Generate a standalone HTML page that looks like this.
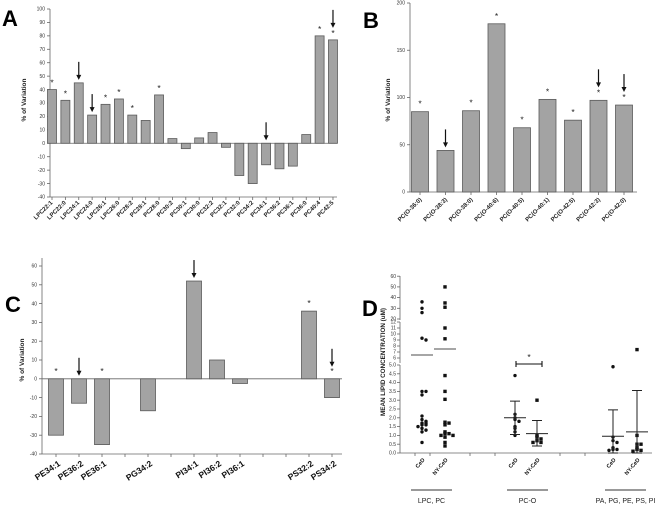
<!DOCTYPE html>
<html><head><meta charset="utf-8"><style>
html,body{margin:0;padding:0;background:#fff;}
svg{display:block;font-family:"Liberation Sans",sans-serif;}
.t{font-size:5px;fill:#333;}
.l{font-size:6px;fill:#222;}
.bar{fill:#a3a3a3;stroke:#5a5a5a;stroke-width:0.8;}
.ax{stroke:#666;stroke-width:0.8;fill:none;}
</style></head><body>
<svg id="fig" width="658" height="506" viewBox="0 0 658 506">
<g id="gA"></g>
<g id="gB"></g>
<g id="gC"></g>
<g id="gD"></g>
</svg>
<script>
// Panel A data
const aCats=["LPC22:1","LPC22:0","LPC24:1","LPC24:0","LPC26:1","LPC26:0","PC28:2","PC28:1","PC28:0","PC30:2","PC30:1","PC30:0","PC32:2","PC32:1","PC32:0","PC34:2","PC34:1","PC36:2","PC36:1","PC36:0","PC40:4","PC42:5"];
const aVals=[40,32,45,21,29,33,21,17,36,3.5,-4,4,8,-3,-24,-30,-16,-19,-17,6.5,80,77];
const aStars=[0,1,4,5,6,8,20,21];
const aArrows=[2,3,16,21];
const aTicks=[100,90,80,70,60,50,40,30,20,10,0,-10,-20,-30,-40];
// Panel B data
const bCats=["PC(O-36:0)","PC(O-38:3)","PC(O-38:0)","PC(O-40:6)","PC(O-40:5)","PC(O-40:1)","PC(O-42:5)","PC(O-42:3)","PC(O-42:0)"];
const bVals=[85,44,86,178,68,98,76,97,92];
const bStars=[0,2,3,4,5,6,7,8];
const bArrows=[1,7,8];
const bTicks=[0,50,100,150,200];
// Panel C data
const cCats=["PE34:1","PE36:2","PE36:1","PG34:2","PI34:1","PI36:2","PI36:1","PS32:2","PS34:2"];
const cSlots=[0,1,2,4,6,7,8,11,12];
const cVals=[-30,-13,-35,-17,52,10,-2.5,36,-10];
const cStars=[0,2,7,8];
const cArrows=[1,4,8];
const cTicks=[60,50,40,30,20,10,0,-10,-20,-30,-40];
// Panel D data
const dCeD_LPC=[36,30,26,9.3,9,3.5,3.5,3.3,2.1,1.9,1.8,1.7,1.7,1.6,1.6,1.5,1.4,1.3,1.2,0.6];
const dNY_LPC=[50,35,31,11,9.2,4.4,3.5,3.05,1.75,1.7,1.6,1.2,1.1,1.1,1.0,1.0,0.9,0.6,0.4];
const dCeD_PCO=[4.4,2.2,2.0,1.9,1.8,1.5,1.4,1.2,1.0];
const dNY_PCO=[3.0,1.0,0.9,0.8,0.7,0.6,0.6];
const dCeD_OTH=[4.9,0.9,0.7,0.6,0.3,0.2,0.2,0.15];
const dNY_OTH=[7.4,1.0,0.5,0.5,0.3,0.2,0.15,0.1];
const dMeans=[6.5,7.5,2.0,1.1,0.95,1.2];
const dErrLo=[null,null,1.05,0.4,0,0];
const dErrHi=[null,null,2.95,1.85,2.45,3.55];
const dTicksLow=[0,0.5,1,1.5,2,2.5,3,3.5,4,4.5,5];
const dTicksMid=[5,6,7,8,9,10,11,12];
const dTicksHigh=[20,30,40,50,60];

const NS="http://www.w3.org/2000/svg";
function mk(p,tag,at,txt){const e=document.createElementNS(NS,tag);for(const k in at)e.setAttribute(k,at[k]);if(txt!==undefined)e.textContent=txt;p.appendChild(e);return e;}
function arrow(g,x,yTip){
  const a=mk(g,"g",{});
  
  
  mk(a,"line",{x1:x,y1:yTip-18,x2:x,y2:yTip-4,stroke:"#111","stroke-width":1.2});
  mk(a,"path",{d:`M${x-2.5},${yTip-5} L${x+2.5},${yTip-5} L${x},${yTip} Z`,fill:"#111"});
}
function star(g,x,y){const s=mk(g,"text",{x:x,y:y+1,"text-anchor":"middle","font-size":"8.5",fill:"#222"},"*");
  }
function letter(g,x,y,t){const e=mk(g,"text",{x:x,y:y,"font-size":"22","font-weight":"bold",fill:"#000"},t);
  }
function ytitle(g,x,y,t,fs){const e=mk(g,"text",{x:x,y:y,transform:`rotate(-90 ${x} ${y})`,"text-anchor":"middle","font-size":fs||"6.5","font-weight":"bold",fill:"#222"},t);
  }

// ---- Panel A
(function(){
  const g=document.getElementById("gA");
  const y0=9,y1=197,vmax=100,vmin=-40;
  const Y=v=>y0+(vmax-v)*(y1-y0)/(vmax-vmin);
  const X=i=>52+i*13.38;
  letter(g,2,26,"A");
  ytitle(g,26,100,"% of Variation");
  mk(g,"line",{x1:50,y1:y0,x2:50,y2:y1,class:"ax"});
  mk(g,"line",{x1:50,y1:y1,x2:337,y2:y1,class:"ax"});
  mk(g,"line",{x1:50,y1:Y(0),x2:337,y2:Y(0),class:"ax"});
  aTicks.forEach(t=>{mk(g,"line",{x1:47,y1:Y(t),x2:50,y2:Y(t),class:"ax"});
    const e=mk(g,"text",{x:45,y:Y(t)+1.7,"text-anchor":"end",class:"t"},t);
    });
  aCats.forEach((c,i)=>{
    const v=aVals[i];
    const r=mk(g,"rect",{x:X(i)-4.5,y:Math.min(Y(v),Y(0)),width:9,height:Math.abs(Y(v)-Y(0)),class:"bar"});
    
    
    mk(g,"line",{x1:X(i),y1:y1,x2:X(i),y2:y1+3,class:"ax"});
    const lx=X(i)+1,ly=y1+6;
    const e=mk(g,"text",{x:lx,y:ly,transform:`rotate(-45 ${lx} ${ly})`,"text-anchor":"end",class:"l","font-weight":"bold","font-size":"5.5"},c);
    
  });
  aStars.forEach(i=>star(g,X(i),Y(Math.max(aVals[i],0))-5));
  aArrows.forEach(i=>arrow(g,X(i),Y(Math.max(aVals[i],0))-(aStars.includes(i)?12:3)));
})();

// ---- Panel B
(function(){
  const g=document.getElementById("gB");
  const y0=3,y1=192,vmax=200;
  const Y=v=>y1-v*(y1-y0)/vmax;
  const X=i=>420+i*25.5;
  letter(g,363,28,"B");
  ytitle(g,390,100,"% of Variation");
  mk(g,"line",{x1:410,y1:y0,x2:410,y2:y1,class:"ax"});
  mk(g,"line",{x1:410,y1:y1,x2:637,y2:y1,class:"ax"});
  bTicks.forEach(t=>{mk(g,"line",{x1:407,y1:Y(t),x2:410,y2:Y(t),class:"ax"});
    const e=mk(g,"text",{x:405,y:Y(t)+1.7,"text-anchor":"end",class:"t"},t);
    });
  bCats.forEach((c,i)=>{
    const v=bVals[i];
    const r=mk(g,"rect",{x:X(i)-8.5,y:Y(v),width:17,height:Y(0)-Y(v),class:"bar"});
    
    
    mk(g,"line",{x1:X(i),y1:y1,x2:X(i),y2:y1+3,class:"ax"});
    const lx=X(i)+2,ly=y1+8;
    const e=mk(g,"text",{x:lx,y:ly,transform:`rotate(-45 ${lx} ${ly})`,"text-anchor":"end",class:"l","font-weight":"bold","font-size":"5.5"},c);
    
  });
  bStars.forEach(i=>star(g,X(i),Y(bVals[i])-6));
  bArrows.forEach(i=>arrow(g,X(i),Y(bVals[i])-(bStars.includes(i)?13:3)));
})();

// ---- Panel C
(function(){
  const g=document.getElementById("gC");
  const y0=266,vmax=60,vmin=-40,y1=454;
  const Y=v=>y0+(vmax-v)*(y1-y0)/(vmax-vmin);
  const X=s=>56+s*23;
  letter(g,5,312,"C");
  ytitle(g,24,360,"% of Variation");
  mk(g,"line",{x1:42,y1:258,x2:42,y2:y1,class:"ax"});
  mk(g,"line",{x1:42,y1:y1,x2:342,y2:y1,class:"ax"});
  mk(g,"line",{x1:42,y1:Y(0),x2:342,y2:Y(0),class:"ax"});
  cTicks.forEach(t=>{mk(g,"line",{x1:39,y1:Y(t),x2:42,y2:Y(t),class:"ax"});
    const e=mk(g,"text",{x:37,y:Y(t)+1.7,"text-anchor":"end",class:"t"},t);
    });
  for(let s=0;s<13;s++)mk(g,"line",{x1:X(s),y1:y1,x2:X(s),y2:y1+3,class:"ax"});
  cCats.forEach((c,i)=>{
    const v=cVals[i],x=X(cSlots[i]);
    const r=mk(g,"rect",{x:x-7.5,y:Math.min(Y(v),Y(0)),width:15,height:Math.abs(Y(v)-Y(0)),class:"bar"});
    
    
    const lx=x+5,ly=y1+11;
    const e=mk(g,"text",{x:lx,y:ly,transform:`rotate(-33 ${lx} ${ly})`,"text-anchor":"end","font-size":"8.5","font-weight":"bold",fill:"#111"},c);
    
  });
  cStars.forEach(i=>star(g,X(cSlots[i]),Y(Math.max(cVals[i],0))-6));
  cArrows.forEach(i=>arrow(g,X(cSlots[i]),Y(Math.max(cVals[i],0))-(cStars.includes(i)?12:3)));
})();

// ---- Panel D
(function(){
  const g=document.getElementById("gD");
  function Y(v){
    if(v<=5) return 453-v*17.6;
    if(v<=12) return 364-(v-5)*6;
    return 319-(v-20)*1.07;
  }
  const xs=[422,445,515,537,613,637];
  letter(g,362,316,"D");
  ytitle(g,385,362,"MEAN LIPID CONCENTRATION (uM)","6.3");
  mk(g,"line",{x1:400,y1:276,x2:400,y2:320,class:"ax"});
  mk(g,"line",{x1:400,y1:322,x2:400,y2:363,class:"ax"});
  mk(g,"line",{x1:400,y1:365,x2:400,y2:453,class:"ax"});
  mk(g,"line",{x1:400,y1:453,x2:652,y2:453,class:"ax"});
  function ticks(arr,fmt){arr.forEach(t=>{mk(g,"line",{x1:397,y1:Y(t),x2:400,y2:Y(t),class:"ax"});
    const e=mk(g,"text",{x:396,y:Y(t)+1.6,"text-anchor":"end",class:"t","font-size":"4.5"},fmt(t));
    });}
  ticks(dTicksLow,t=>t.toFixed(1));
  ticks(dTicksMid.slice(1),t=>t);
  ticks(dTicksHigh,t=>t);
  [415,430,470,495,560,585].forEach(x=>{mk(g,"line",{x1:x,y1:453,x2:x,y2:456,class:"ax"});});
  const groups=[dCeD_LPC,dNY_LPC,dCeD_PCO,dNY_PCO,dCeD_OTH,dNY_OTH];
  groups.forEach((arr,gi)=>{
    const cx=xs[gi];
    const cnt={};
    arr.forEach(v=>{
      const key=Math.round(Y(v)/3);cnt[key]=(cnt[key]||0)+1;
      const k=cnt[key]-1, off=(k%2?1:-1)*Math.ceil(k/2)*4;
      const y=Y(v);
      let e;
      if(gi%2===0) e=mk(g,"circle",{cx:cx+off,cy:y,r:1.7,fill:"#111"});
      else e=mk(g,"rect",{x:cx+off-1.7,y:y-1.7,width:3.4,height:3.4,fill:"#111"});
      
      
    });
    const m=mk(g,"line",{x1:cx-11,y1:Y(dMeans[gi]),x2:cx+11,y2:Y(dMeans[gi]),stroke:gi<2?"#888":"#222","stroke-width":gi<2?1.4:1});
    
    if(dErrHi[gi]!==null){
      const eb=mk(g,"path",{d:`M${cx},${Y(dErrLo[gi])} L${cx},${Y(dErrHi[gi])} M${cx-5},${Y(dErrHi[gi])} L${cx+5},${Y(dErrHi[gi])} M${cx-5},${Y(dErrLo[gi])} L${cx+5},${Y(dErrLo[gi])}`,stroke:"#222","stroke-width":1,fill:"none"});
      
    }
    const lx=cx+3,ly=460;
    const t=mk(g,"text",{x:lx,y:ly,transform:`rotate(-50 ${lx} ${ly})`,"text-anchor":"end","font-size":"5.5","font-weight":"bold",fill:"#111"},gi%2?"NY-CeD":"CeD");
    
  });
  const br=mk(g,"path",{d:"M516,364 L542,364 M516,361 L516,367 M542,361 L542,367",stroke:"#111","stroke-width":1.1,fill:"none"});
  
  star(g,529,359);
  const glabels=[["LPC, PC",411,452],["PC-O",507,548],["PA, PG, PE, PS, PI",605,646]];
  glabels.forEach(([t,a,b])=>{
    mk(g,"line",{x1:a,y1:490,x2:b,y2:490,stroke:"#333","stroke-width":0.9});
    const e=mk(g,"text",{x:(a+b)/2,y:503,"text-anchor":"middle","font-size":"7",fill:"#222"},t);
    
  });
})();
</script>
</body></html>
